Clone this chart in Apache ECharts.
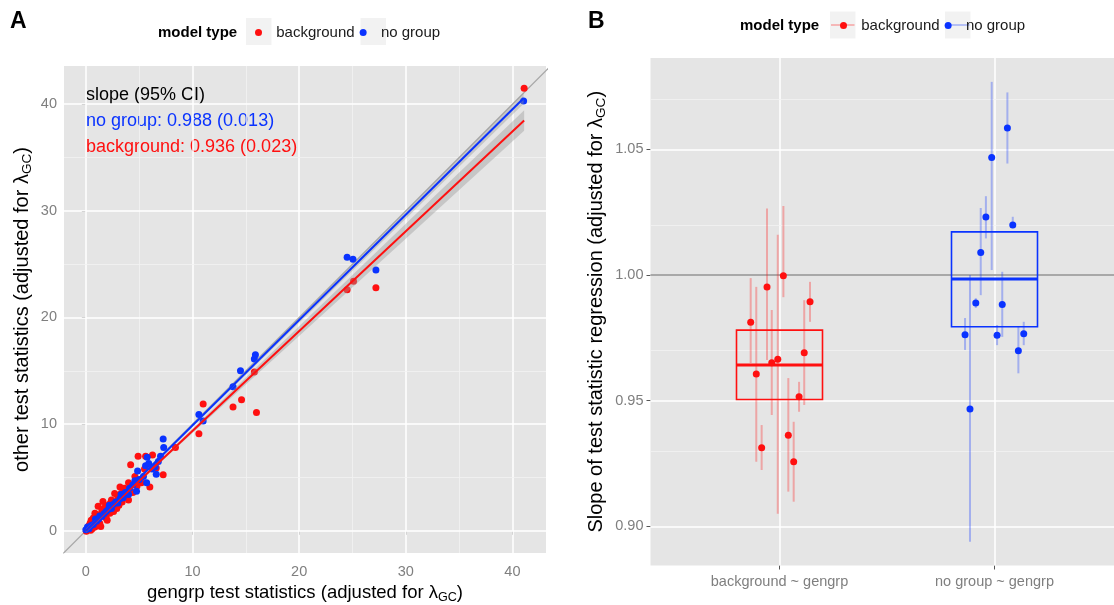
<!DOCTYPE html>
<html>
<head>
<meta charset="utf-8">
<title>gengrp test statistics</title>
<script src="https://cdn.jsdelivr.net/npm/echarts@6/dist/echarts.min.js"></script>
<style>
  html, body { margin: 0; padding: 0; background: #fff; }
  #chart { width: 1114px; height: 605px; }
</style>
</head>
<body>
<div id="chart"></div>
<script>
// panel A: [gengrp statistic, other statistic]
const backgroundPoints = [
  [0.05, -0.05], [0.2, 0.15], [0.45, 0.05], [0.3, 0.5], [0.6, 0.2], [0.4, 0.7], [0.85, 0.35], [0.5, 1.0],
  [1.1, 0.6], [0.7, 1.2], [1.0, 1.0], [1.3, 0.7], [1.2, 1.5], [1.4, 0.4], [0.85, 1.65], [1.15, 2.3],
  [1.5, 2.0], [1.6, 2.75], [1.8, 2.2], [1.9, 1.2], [2.0, 1.0], [2.1, 2.4], [2.25, 1.65], [2.3, 2.6],
  [2.4, 2.9], [2.6, 1.8], [2.7, 3.5], [2.9, 2.1], [3.0, 3.1], [3.1, 2.4], [3.2, 4.1], [3.3, 3.5],
  [3.4, 2.7], [3.6, 4.0], [3.8, 3.2], [4.0, 2.9], [4.0, 4.5], [4.2, 6.2], [4.4, 3.6], [4.6, 5.1],
  [4.8, 4.2], [4.9, 7.0], [5.2, 4.5], [5.5, 5.8], [5.6, 7.0], [6.0, 4.1], [6.25, 7.1], [6.6, 5.9],
  [7.25, 5.25], [8.4, 7.8], [10.6, 9.1], [11.0, 11.9], [13.8, 11.6], [14.6, 12.3], [15.8, 14.9],
  [16.0, 11.1], [24.5, 22.6], [25.1, 23.4], [27.2, 22.8], [41.1, 41.5]
];
const noGroupPoints = [
  [0.0, 0.1], [0.15, 0.35], [0.3, 0.2], [0.5, 0.5], [0.7, 0.6], [0.9, 1.1], [1.0, 0.9], [1.2, 1.1],
  [1.3, 1.4], [1.5, 1.35], [1.7, 1.6], [1.9, 1.8], [2.1, 2.0], [2.2, 2.4], [2.4, 2.1], [2.6, 2.5],
  [2.8, 2.7], [3.0, 2.6], [3.2, 3.0], [3.3, 3.4], [3.5, 3.1], [3.7, 3.6], [4.0, 3.4], [4.1, 4.0],
  [4.4, 4.3], [4.6, 4.7], [4.75, 3.7], [4.85, 5.6], [5.0, 4.8], [5.4, 5.1], [5.6, 6.1], [5.7, 4.5],
  [5.75, 6.9], [5.9, 6.3], [6.2, 5.8], [6.5, 6.0], [6.6, 5.3], [6.8, 6.5], [7.0, 7.0], [7.3, 7.8],
  [7.25, 8.6], [10.6, 10.9], [11.0, 10.3], [13.8, 13.5], [14.5, 15.0], [15.8, 16.1], [15.9, 16.5],
  [24.5, 25.65], [25.05, 25.46], [27.2, 24.46], [41.05, 40.3]
];
const identityLine = [[-5, -5], [50, 50]];
const backgroundFit = [[0, 0], [41.1, 38.47]];
const noGroupFit = [[0, 0], [41.05, 40.56]];
// [x, lower, upper] of the fit's confidence ribbon
const backgroundBand = [[0, -0.2, 0.2], [4, 3.64, 3.84], [10, 9.16, 9.56], [20, 18.27, 19.17], [30, 27.38, 28.78], [41.1, 37.52, 39.42]];
const noGroupBand = [[0, -0.12, 0.12], [4, 3.89, 4.01], [10, 9.76, 10.0], [20, 19.51, 20.01], [30, 29.26, 30.02], [41.05, 40.04, 41.08]];
const statTicks = [0, 10, 20, 30, 40];
const statMinor = [5, 15, 25, 35];
const slopeNotes = ['slope (95% CI)', 'no group: 0.988 (0.013)', 'background: 0.936 (0.023)'];

// panel B: one slope per replicate, jittered around its category
const slopeCategories = ['background ~ gengrp', 'no group ~ gengrp'];
const bgJitter = [1.018, 0.942, 0.866, 1.142, 1.115, 0.992, 0.964, 0.892, 1.091, 1.041, 0.917, 1.066];
const bgSlope = [0.9997, 0.9953, 0.9812, 0.9894, 0.9691, 0.9665, 0.9651, 0.9606, 0.9516, 0.9362, 0.9313, 0.9257];
const bgLow = [0.9912, 0.9662, 0.9650, 0.9814, 0.9483, 0.9050, 0.9443, 0.9257, 0.9456, 0.9138, 0.9224, 0.9098];
const bgHigh = [1.0275, 1.0265, 0.9988, 0.9973, 0.9900, 1.0160, 0.9861, 0.9953, 0.9575, 0.9590, 0.9403, 0.9416];
const ngJitter = [2.060, 1.987, 1.960, 2.085, 1.936, 1.913, 2.036, 1.863, 2.012, 2.136, 2.111, 1.886];
const ngSlope = [1.0585, 1.0468, 1.0231, 1.0199, 1.0090, 0.9889, 0.9883, 0.9762, 0.9760, 0.9766, 0.9699, 0.9467];
const ngLow = [1.0444, 1.0020, 1.0146, 1.0187, 0.9920, 0.9869, 0.9754, 0.9702, 0.9721, 0.9721, 0.9609, 0.8939];
const ngHigh = [1.0727, 1.0769, 1.0314, 1.0232, 1.0267, 0.9908, 1.0013, 0.9829, 0.9801, 0.9814, 0.9794, 1.0000];
// [category, lower hinge, median, upper hinge]
const bgBox = [1, 0.9505, 0.9642, 0.9781];
const ngBox = [2, 0.9794, 0.9984, 1.0172];
const slopeTicks = [0.90, 0.95, 1.00, 1.05];
const slopeMinor = [0.925, 0.975, 1.025, 1.075];

const RED = '#FF1010';
const BLUE = '#0A33FF';
const FONT = '"Liberation Sans", Arial, sans-serif';
const TICK_GREY = '#7F7F7F';

const chart = echarts.init(document.getElementById('chart'));

function gridLines(key, major, minor) {
  return minor.map(v => ({ [key]: v, lineStyle: { color: '#F2F2F2', width: 0.8, type: 'solid' } }))
    .concat(major.map(v => ({ [key]: v, lineStyle: { color: '#FFFFFF', width: 1.5, type: 'solid' } })));
}

function gridSeries(idx, data) {
  return {
    type: 'scatter', xAxisIndex: idx, yAxisIndex: idx, data: [], silent: true,
    markLine: {
      silent: true, symbol: ['none', 'none'], label: { show: false }, animation: false, z: 1,
      emphasis: { disabled: true }, data
    }
  };
}

function bandSeries(rows, name) {
  return {
    type: 'custom', name, xAxisIndex: 0, yAxisIndex: 0, z: 6, silent: true,
    data: rows,
    renderItem: (params, api) => {
      if (params.dataIndex !== 0) return null;
      const upper = rows.map(r => api.coord([r[0], r[2]]));
      const lower = rows.slice().reverse().map(r => api.coord([r[0], r[1]]));
      return { type: 'polygon', shape: { points: upper.concat(lower) }, style: { fill: 'rgba(153,153,153,0.4)' } };
    }
  };
}

function errorBars(xs, lo, hi, color, name) {
  return {
    type: 'custom', name, xAxisIndex: 1, yAxisIndex: 1, z: 3, silent: true,
    data: xs.map((x, i) => [x, lo[i], hi[i]]),
    renderItem: (params, api) => {
      const a = api.coord([api.value(0), api.value(1)]);
      const b = api.coord([api.value(0), api.value(2)]);
      return { type: 'line', shape: { x1: a[0], y1: a[1], x2: b[0], y2: b[1] }, style: { stroke: color, opacity: 0.3, lineWidth: 2 } };
    }
  };
}

function boxSeries(box, color, name) {
  const half = 0.2;
  return {
    type: 'custom', name, xAxisIndex: 1, yAxisIndex: 1, z: 4, silent: true,
    data: [box],
    renderItem: (params, api) => {
      const x = api.value(0);
      const tl = api.coord([x - half, api.value(3)]);
      const br = api.coord([x + half, api.value(1)]);
      const m1 = api.coord([x - half, api.value(2)]);
      const m2 = api.coord([x + half, api.value(2)]);
      return {
        type: 'group', children: [
          { type: 'rect', shape: { x: tl[0], y: tl[1], width: br[0] - tl[0], height: br[1] - tl[1] }, style: { fill: 'none', stroke: color, lineWidth: 1.6 } },
          { type: 'line', shape: { x1: m1[0], y1: m1[1], x2: m2[0], y2: m2[1] }, style: { stroke: color, lineWidth: 3 } }
        ]
      };
    }
  };
}

function nameStyle(size) {
  return {
    fontSize: size, color: '#000', fontFamily: FONT,
    rich: { sub: { fontSize: size * 0.68, color: '#000', fontFamily: FONT, padding: [size * 0.47, 0, 0, 0] } }
  };
}
const tickStyle = { show: true, length: 4, lineStyle: { color: '#555', width: 1 } };

chart.setOption({
  animation: false,
  textStyle: { fontFamily: FONT },
  grid: [
    { left: 64, top: 66, width: 482, height: 487, outerBoundsMode: 'none', containLabel: false, show: true, backgroundColor: '#E5E5E5', borderWidth: 0 },
    { left: 650.5, top: 58, width: 473, height: 507.5, outerBoundsMode: 'none', containLabel: false, show: true, backgroundColor: '#E5E5E5', borderWidth: 0 }
  ],
  xAxis: [
    {
      type: 'value', gridIndex: 0, min: -2.05, max: 43.15,
      axisLine: { show: false }, splitLine: { show: false },
      axisTick: Object.assign({ customValues: statTicks }, tickStyle),
      axisLabel: { customValues: statTicks, color: TICK_GREY, fontSize: 14.5, margin: 11 },
      name: 'gengrp test statistics (adjusted for λ{sub|GC})', nameLocation: 'middle', nameGap: 27,
      nameTextStyle: nameStyle(18.5)
    },
    {
      type: 'value', gridIndex: 1, min: 0.4, max: 2.6,
      axisLine: { show: false }, splitLine: { show: false },
      axisTick: Object.assign({ customValues: [1, 2] }, tickStyle),
      axisLabel: { customValues: [1, 2], color: TICK_GREY, fontSize: 14.5, margin: 9, formatter: v => slopeCategories[Math.round(v) - 1] }
    }
  ],
  yAxis: [
    {
      type: 'value', gridIndex: 0, min: -2.08, max: 43.58,
      axisLine: { show: false }, splitLine: { show: false },
      axisTick: Object.assign({ customValues: statTicks }, tickStyle),
      axisLabel: { customValues: statTicks, color: TICK_GREY, fontSize: 14.5, margin: 7 },
      name: 'other test statistics (adjusted for λ{sub|GC})', nameLocation: 'middle', nameGap: 30,
      nameTextStyle: nameStyle(20)
    },
    {
      type: 'value', gridIndex: 1, min: 0.8844, max: 1.0864,
      axisLine: { show: false }, splitLine: { show: false },
      axisTick: Object.assign({ customValues: slopeTicks }, tickStyle),
      axisLabel: { customValues: slopeTicks, color: TICK_GREY, fontSize: 14.5, margin: 7, formatter: v => v.toFixed(2) },
      name: 'Slope of test statistic regression (adjusted for λ{sub|GC})', nameLocation: 'middle', nameGap: 42,
      nameTextStyle: nameStyle(20)
    }
  ],
  legend: [
    {
      data: ['background', 'no group'], left: 255, top: 25, padding: 0, itemWidth: 25.5, itemHeight: 7, itemGap: 5,
      icon: 'circle', selectedMode: false, textStyle: { fontSize: 15, color: '#1A1A1A' }
    },
    {
      data: ['background', 'no group'], left: 840, top: 18, padding: 0, itemWidth: 25.5, itemHeight: 7, itemGap: 5,
      icon: 'circle', selectedMode: false, textStyle: { fontSize: 15, color: '#1A1A1A' }
    }
  ],
  graphic: [
    { type: 'text', x: 10, y: 22, style: { text: 'A', font: 'bold 23px ' + FONT, fill: '#000', verticalAlign: 'middle' } },
    { type: 'text', x: 588, y: 22, style: { text: 'B', font: 'bold 23px ' + FONT, fill: '#000', verticalAlign: 'middle' } },
    { type: 'text', x: 158, y: 33, style: { text: 'model type', font: 'bold 15px ' + FONT, fill: '#000', verticalAlign: 'middle' } },
    { type: 'text', x: 740, y: 26, style: { text: 'model type', font: 'bold 15px ' + FONT, fill: '#000', verticalAlign: 'middle' } },
    { type: 'rect', z: 0, shape: { x: 246, y: 18, width: 25.5, height: 27 }, style: { fill: '#F2F2F2' } },
    { type: 'rect', z: 0, shape: { x: 360.5, y: 18, width: 25.5, height: 27 }, style: { fill: '#F2F2F2' } },
    { type: 'rect', z: 0, shape: { x: 830, y: 11.5, width: 25.5, height: 27 }, style: { fill: '#F2F2F2' } },
    { type: 'rect', z: 0, shape: { x: 945, y: 11.5, width: 25.5, height: 27 }, style: { fill: '#F2F2F2' } },
    { type: 'line', z: 1, shape: { x1: 831, y1: 25, x2: 854.5, y2: 25 }, style: { stroke: RED, opacity: 0.35, lineWidth: 1.5 } },
    { type: 'line', z: 1, shape: { x1: 946, y1: 25, x2: 969.5, y2: 25 }, style: { stroke: BLUE, opacity: 0.35, lineWidth: 1.5 } },
    { type: 'text', x: 86, y: 95, style: { text: slopeNotes[0], font: '18px ' + FONT, fill: '#000', verticalAlign: 'middle' } },
    { type: 'text', x: 86, y: 121.5, style: { text: slopeNotes[1], font: '18px ' + FONT, fill: BLUE, verticalAlign: 'middle' } },
    { type: 'text', x: 86, y: 147.5, style: { text: slopeNotes[2], font: '18px ' + FONT, fill: RED, verticalAlign: 'middle' } }
  ],
  series: [
    { type: 'scatter', name: 'background', xAxisIndex: 0, yAxisIndex: 0, z: 4, data: backgroundPoints, symbolSize: 7, itemStyle: { color: RED, opacity: 1 } },
    { type: 'scatter', name: 'no group', xAxisIndex: 0, yAxisIndex: 0, z: 5, data: noGroupPoints, symbolSize: 7, itemStyle: { color: BLUE, opacity: 1 } },
    { type: 'line', name: 'identity', xAxisIndex: 0, yAxisIndex: 0, z: 3, data: identityLine, showSymbol: false, silent: true, clip: true, lineStyle: { color: '#A6A6A6', width: 1.2 } },
    bandSeries(backgroundBand, 'background band'),
    bandSeries(noGroupBand, 'no group band'),
    { type: 'line', name: 'background fit', xAxisIndex: 0, yAxisIndex: 0, z: 7, data: backgroundFit, showSymbol: false, silent: true, lineStyle: { color: RED, width: 2 } },
    { type: 'line', name: 'no group fit', xAxisIndex: 0, yAxisIndex: 0, z: 7, data: noGroupFit, showSymbol: false, silent: true, lineStyle: { color: BLUE, width: 2 } },
    gridSeries(0, gridLines('xAxis', statTicks, statMinor).concat(gridLines('yAxis', statTicks, statMinor))),

    errorBars(bgJitter, bgLow, bgHigh, RED, 'background bars'),
    errorBars(ngJitter, ngLow, ngHigh, BLUE, 'no group bars'),
    boxSeries(bgBox, RED, 'background box'),
    boxSeries(ngBox, BLUE, 'no group box'),
    { type: 'scatter', name: 'background', xAxisIndex: 1, yAxisIndex: 1, z: 5, data: bgJitter.map((x, i) => [x, bgSlope[i]]), symbolSize: 7, itemStyle: { color: RED, opacity: 1 } },
    { type: 'scatter', name: 'no group', xAxisIndex: 1, yAxisIndex: 1, z: 5, data: ngJitter.map((x, i) => [x, ngSlope[i]]), symbolSize: 7, itemStyle: { color: BLUE, opacity: 1 } },
    gridSeries(1, gridLines('xAxis', [1, 2], []).concat(gridLines('yAxis', slopeTicks, slopeMinor))
      .concat([{ yAxis: 1, lineStyle: { color: '#8C8C8C', width: 1.6, type: 'solid' } }]))
  ]
});
</script>
</body>
</html>
